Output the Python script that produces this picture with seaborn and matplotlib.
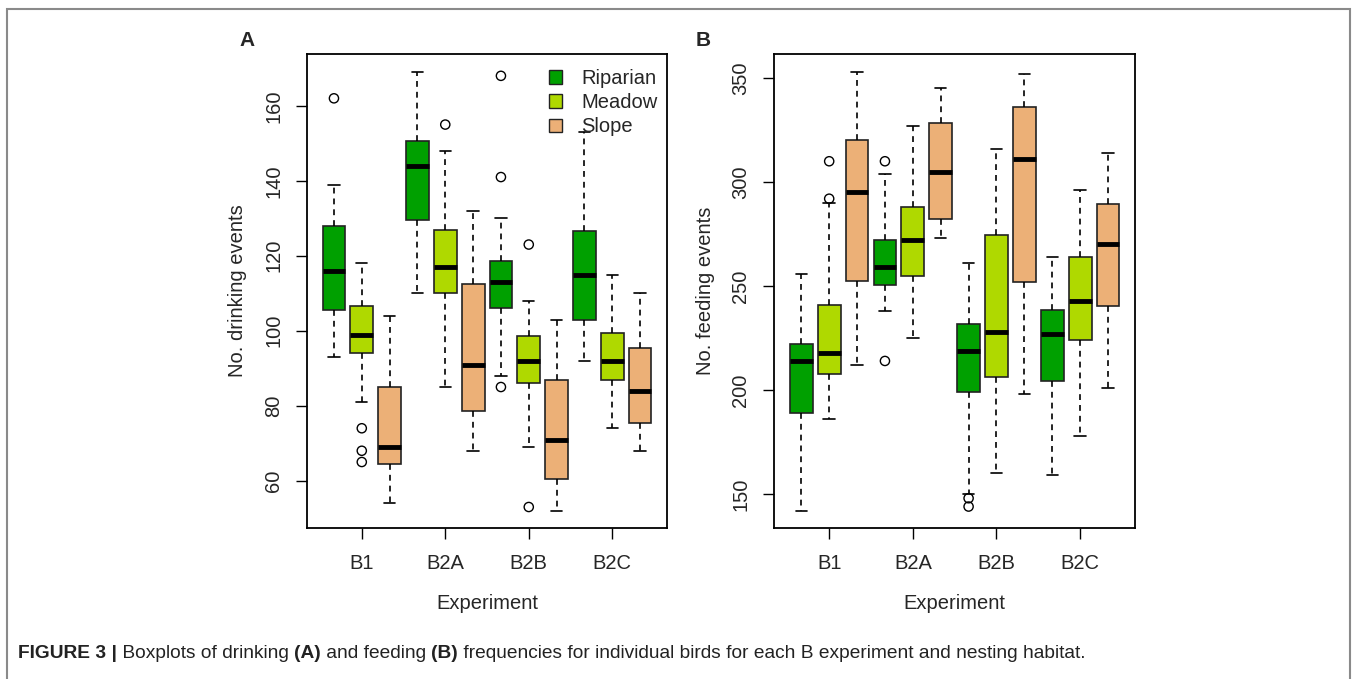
import pandas as pd
import matplotlib
matplotlib.use('Agg')
import matplotlib.pyplot as plt
from matplotlib.patches import Patch, Rectangle
import seaborn as sns

sns.set_theme(style="ticks")
plt.rcParams['font.family'] = ['Liberation Sans', 'DejaVu Sans']

experiments = ["B1", "B2A", "B2B", "B2C"]
habitats = ["Riparian", "Meadow", "Slope"]
colors = ["#00A000", "#AFD900", "#ECB077"]

# (A) drinking events: lower whisker, Q1, median, Q3, upper whisker per experiment
drink_riparian = [(93, 105.5, 116, 128, 139), (110, 129.5, 144, 150.5, 169),
                  (88, 106, 113, 118.5, 130), (92, 103, 115, 126.5, 153)]
drink_meadow = [(81, 94, 99, 106.5, 118), (85, 110, 117, 127, 148),
                (69, 86, 92, 98.5, 108), (74, 87, 92, 99.5, 115)]
drink_slope = [(54, 64.5, 69, 85, 104), (68, 78.5, 91, 112.5, 132),
               (52, 60.5, 71, 87, 103), (68, 75.5, 84, 95.5, 110)]
drink_out_exp = ["B1", "B1", "B1", "B1", "B2A", "B2B", "B2B", "B2B", "B2B", "B2B"]
drink_out_hab = ["Riparian", "Meadow", "Meadow", "Meadow", "Meadow",
                 "Riparian", "Riparian", "Riparian", "Meadow", "Meadow"]
drink_out_val = [162, 74, 68, 65, 155, 168, 141, 85, 123, 53]

# (B) feeding events
feed_riparian = [(142, 189, 214, 222, 256), (238, 250.5, 259, 272, 304),
                 (150, 199, 219, 232, 261), (159, 204.5, 227, 238.5, 264)]
feed_meadow = [(186, 207.5, 218, 241, 290), (225, 255, 272, 288, 327),
               (160, 206.5, 228, 274.5, 316), (178, 224, 243, 264, 296)]
feed_slope = [(212, 252.5, 295, 320, 353), (273, 282, 305, 328.5, 345),
              (198, 252, 311, 336, 352), (201, 240.5, 270, 289.5, 314)]
feed_out_exp = ["B1", "B1", "B2A", "B2A", "B2B", "B2B"]
feed_out_hab = ["Meadow", "Meadow", "Riparian", "Riparian", "Riparian", "Riparian"]
feed_out_val = [310, 292, 310, 214, 148, 144]

FS = 14.5


def long_table(rip, mea, slo):
    rows = []
    for hab, stats in zip(habitats, [rip, mea, slo]):
        for exp, five in zip(experiments, stats):
            for v in five:
                rows.append({"Experiment": exp, "Habitat": hab, "value": v})
    return pd.DataFrame(rows)


def draw_panel(ax, df, out_exp, out_hab, out_val, ylab, ylim, yticks):
    sns.boxplot(data=df, x="Experiment", y="value", hue="Habitat",
                order=experiments, hue_order=habitats, palette=colors,
                saturation=1, whis=(0, 100), width=1.0, gap=0.18,
                showfliers=False, linecolor="#222222", linewidth=1.2,
                medianprops=dict(color="black", linewidth=3.5),
                whiskerprops=dict(linestyle=(0, (3.5, 3)), color="black"),
                capprops=dict(color="black"),
                legend=False, ax=ax)
    # outliers as open circles at the dodged box positions
    xs = [experiments.index(e) + (habitats.index(h) - 1) / 3
          for e, h in zip(out_exp, out_hab)]
    ax.scatter(xs, out_val, s=44, facecolors="none", edgecolors="black",
               linewidths=1.0, zorder=5)
    ax.set_xlim(-0.66, 3.66)
    ax.set_ylim(*ylim)
    ax.set_yticks(yticks)
    ax.set_xlabel("Experiment", fontsize=FS, labelpad=15)
    ax.set_ylabel(ylab, fontsize=FS, labelpad=12)
    ax.tick_params(axis="both", direction="out", length=8, width=1,
                   color="black", labelsize=FS, pad=9)
    ax.tick_params(axis="x", pad=11)
    ax.tick_params(axis="y", labelrotation=90)
    for lab in ax.get_yticklabels():
        lab.set_va("center")
    for sp in ax.spines.values():
        sp.set_color("black")
        sp.set_linewidth(1.3)


fig = plt.figure(figsize=(13.6, 6.79), dpi=100)
axA = fig.add_axes([0.2255, 0.2224, 0.2652, 0.6985])
axB = fig.add_axes([0.5691, 0.2224, 0.2657, 0.6985])

draw_panel(axA, long_table(drink_riparian, drink_meadow, drink_slope),
           drink_out_exp, drink_out_hab, drink_out_val,
           "No. drinking events", (47.4, 173.9), [60, 80, 100, 120, 140, 160])
draw_panel(axB, long_table(feed_riparian, feed_meadow, feed_slope),
           feed_out_exp, feed_out_hab, feed_out_val,
           "No. feeding events", (133.7, 361.7), [150, 200, 250, 300, 350])

handles = [Patch(facecolor=c, edgecolor="#222222", label=h)
           for c, h in zip(colors, habitats)]
axA.legend(handles=handles, loc="upper right", frameon=False, fontsize=FS,
           handlelength=0.65, handleheight=0.65, handletextpad=0.95,
           labelspacing=0.26, borderaxespad=0.0,
           bbox_to_anchor=(0.995, 0.985))

fig.text(247 / 1360, 1 - 40 / 679, "A", fontsize=15, fontweight="bold",
         ha="center", va="center")
fig.text(703 / 1360, 1 - 40 / 679, "B", fontsize=15, fontweight="bold",
         ha="center", va="center")

# caption: alternating bold / regular pieces placed one after another
cap_y = 1 - 653 / 679
cap_parts = [("FIGURE 3 |", "bold"), (" Boxplots of drinking ", "normal"),
             ("(A)", "bold"), (" and feeding ", "normal"), ("(B)", "bold"),
             (" frequencies for individual birds for each B experiment and "
              "nesting habitat.", "normal")]
x_px = 18
renderer = fig.canvas.get_renderer()
for txt, w in cap_parts:
    t = fig.text(x_px / 1360, cap_y, txt, fontsize=13.8, fontweight=w,
                 va="center", color="#222222")
    x_px = t.get_window_extent(renderer=renderer).x1

fig.add_artist(Rectangle((7 / 1360, -0.01), 1343 / 1360, 1 - 9 / 679 + 0.01,
                         transform=fig.transFigure, fill=False,
                         edgecolor="#8a8a8a", linewidth=1.5))

plt.savefig("out.png", dpi=100)
